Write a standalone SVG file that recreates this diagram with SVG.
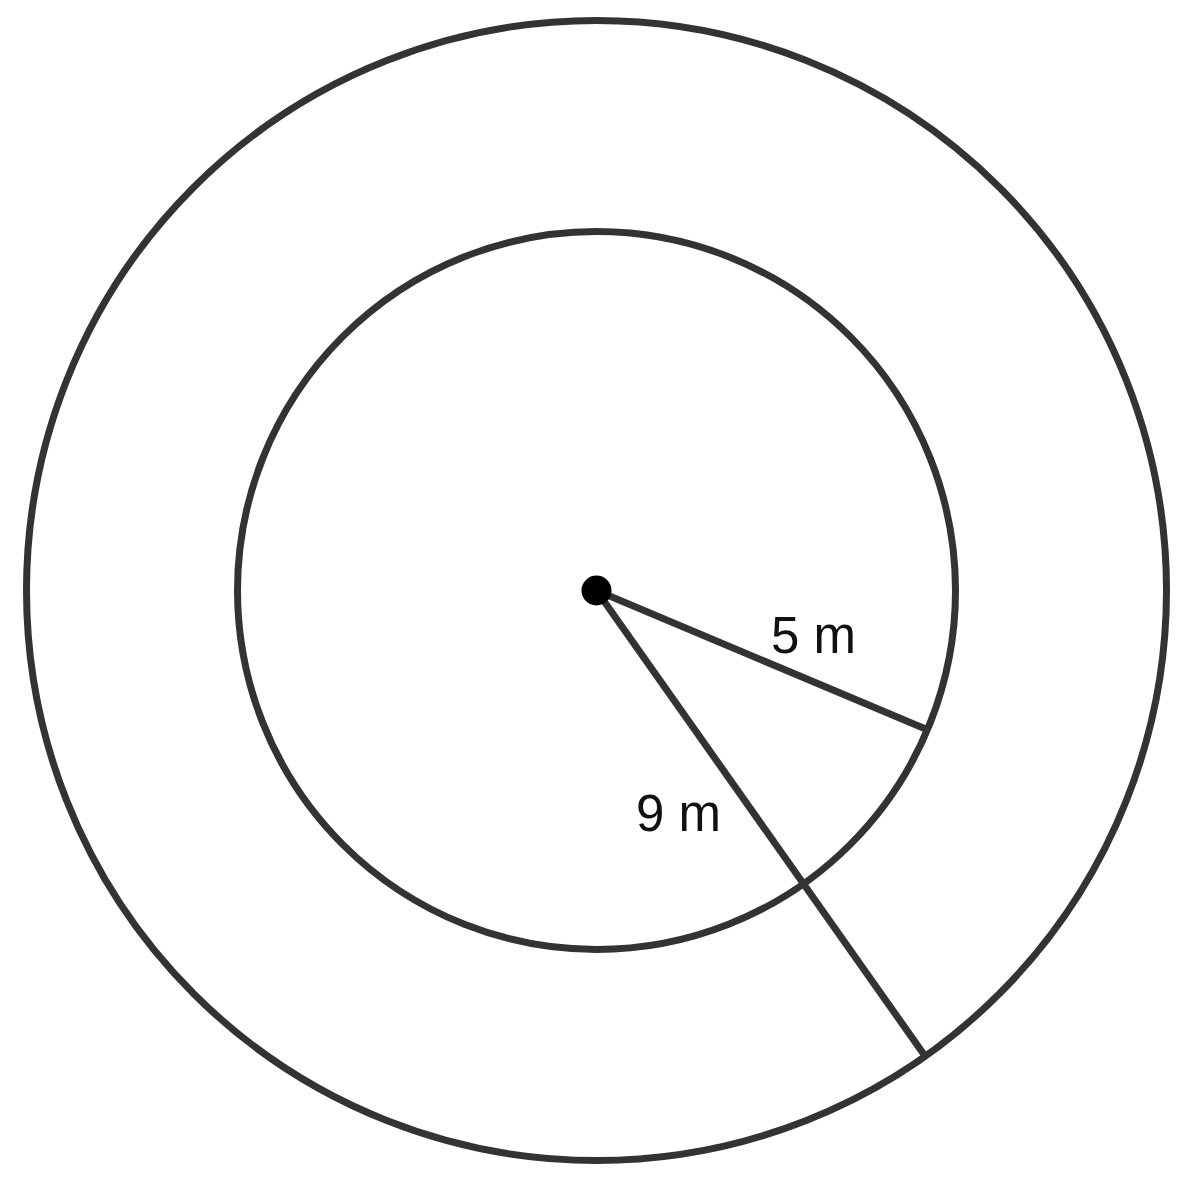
<svg xmlns="http://www.w3.org/2000/svg" width="1200" height="1187" viewBox="0 0 1200 1187">
<style>
.c{fill:none;stroke:#333;stroke-width:7}
.r{stroke:#333;stroke-width:7;stroke-linecap:butt}
.t{font-family:"Liberation Sans",Arial,sans-serif;font-size:51px;fill:#111}
</style>
<rect width="1200" height="1187" fill="#fff"/>
<g id="outer-circle"><circle class="c" cx="596.5" cy="590.5" r="570"/></g>
<g id="inner-circle"><circle class="c" cx="596.5" cy="590.5" r="359"/></g>
<g id="connectors">
<line class="r" x1="596.5" y1="590.5" x2="928" y2="730"/>
<line class="r" x1="596.5" y1="590.5" x2="925" y2="1056"/>
</g>
<g id="center"><circle cx="596.5" cy="590.5" r="15" fill="#000"/></g>
<g id="label-5m"><text class="t" x="771" y="653">5 m</text></g>
<g id="label-9m"><text class="t" x="636" y="831">9 m</text></g>
</svg>
